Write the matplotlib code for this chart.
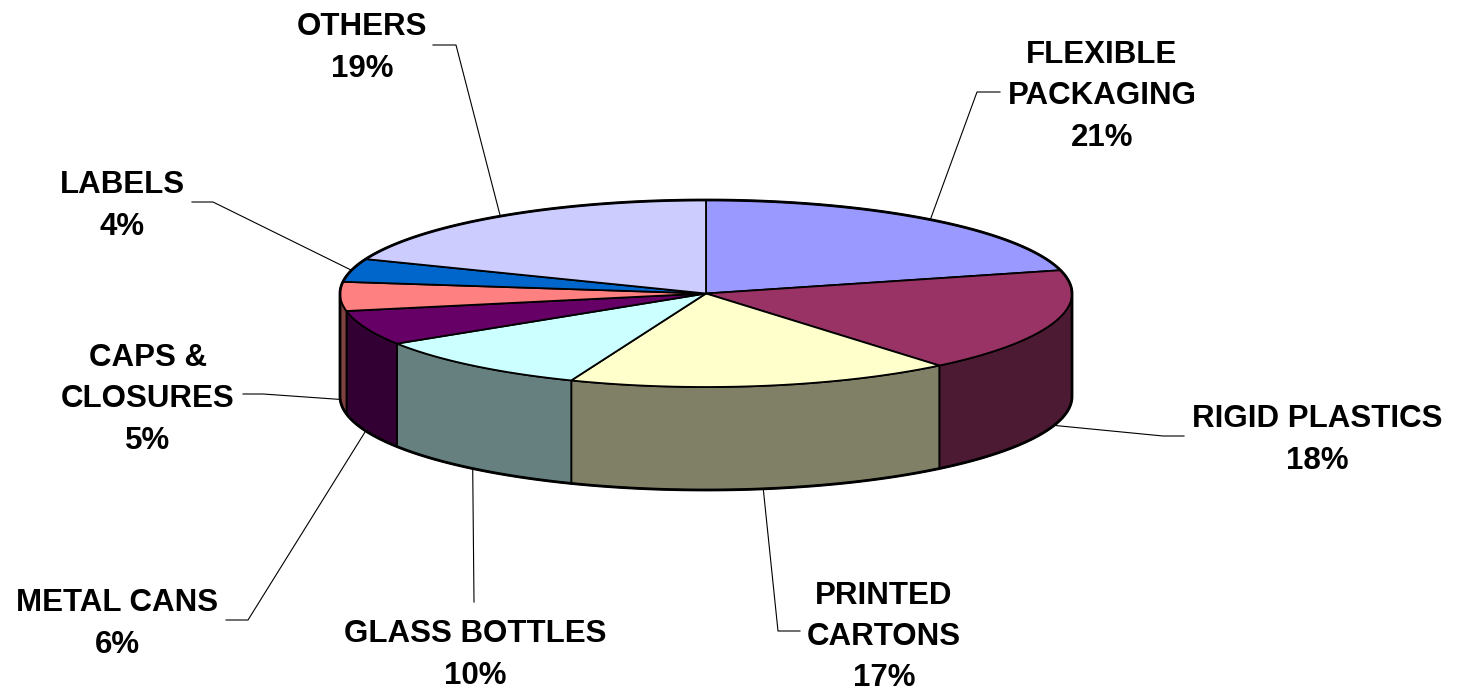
import numpy as np
import matplotlib.pyplot as plt
from matplotlib.patches import Polygon

categories = ["FLEXIBLE\nPACKAGING", "RIGID PLASTICS", "PRINTED\nCARTONS", "GLASS BOTTLES",
              "METAL CANS", "CAPS &\nCLOSURES", "LABELS", "OTHERS"]
shares = [21, 18, 17, 10, 6, 5, 4, 19]

top_colors = ["#9999FF", "#993366", "#FFFFCC", "#CCFFFF",
              "#660066", "#FF8080", "#0066CC", "#CCCCFF"]
side_colors = ["#4C4C80", "#4D1A33", "#808066", "#668080",
               "#330033", "#804040", "#003366", "#666680"]

# where each label sits, and the bend of its leader line (pixels)
label_xy = [(1102, 96), (1317, 440), (884, 637), (475, 655),
            (117, 624), (148, 399), (122, 206), (362, 48)]
elbow_xy = [(977, 92), (1163, 436), (778, 631), (474, 602),
            (248, 620), (263, 394), (213, 202), (456, 45)]
end_xy = [(1000, 92), (1184, 436), (800, 631), (474, 602),
          (226, 620), (243, 394), (192, 202), (433, 45)]

# pie geometry: ellipse of the top face and the thickness of the disc
cx, cy, rx, ry, depth = 706, 293.5, 366, 93.5, 103


def rim(t_deg, drop=0.0):
    t = np.radians(t_deg)
    return np.column_stack([cx + rx * np.cos(t), cy - ry * np.sin(t) + drop])


fig = plt.figure(figsize=(14.57, 6.91), dpi=100)
ax = fig.add_axes([0, 0, 1, 1])
ax.set_xlim(0, 1457)
ax.set_ylim(691, 0)
ax.axis("off")

fracs = np.array(shares) / sum(shares)
bounds = 90 - 360 * np.concatenate([[0], np.cumsum(fracs)])

# side walls: only the front half (angles -180..0) is visible
for i in range(len(shares)):
    hi, lo = bounds[i], bounds[i + 1]
    a, b = max(lo, -180), min(hi, 0)
    if a >= b:
        continue
    ts = np.linspace(b, a, 80)
    pts = np.vstack([rim(ts), rim(ts[::-1], depth)])
    ax.add_patch(Polygon(pts, closed=True, facecolor=side_colors[i],
                         edgecolor="black", lw=1.3, joinstyle="round"))

# top face wedges
for i in range(len(shares)):
    hi, lo = bounds[i], bounds[i + 1]
    ts = np.linspace(hi, lo, 120)
    pts = np.vstack([[cx, cy], rim(ts)])
    ax.add_patch(Polygon(pts, closed=True, facecolor=top_colors[i],
                         edgecolor="black", lw=1.3, joinstyle="round"))

# outer silhouette
back = rim(np.linspace(0, 180, 200))
front = rim(np.linspace(180, 360, 200), depth)
ax.add_patch(Polygon(np.vstack([back, front]), closed=True, fill=False,
                     edgecolor="black", lw=2.0, joinstyle="round"))

# leader lines and labels
for i, name in enumerate(categories):
    mid = (bounds[i] + bounds[i + 1]) / 2
    on_front = np.sin(np.radians(mid)) < 0
    anchor = rim(mid, depth if on_front else 0)[0]
    xs = [anchor[0], elbow_xy[i][0], end_xy[i][0]]
    ys = [anchor[1], elbow_xy[i][1], end_xy[i][1]]
    ax.plot(xs, ys, color="black", lw=0.8)
    ax.text(label_xy[i][0], label_xy[i][1], f"{name}\n{shares[i]}%",
            ha="center", va="center", multialignment="center",
            fontsize=22.5, fontweight="bold", family="Liberation Sans",
            linespacing=1.5)

fig.savefig("out.png", dpi=100, facecolor="white")
